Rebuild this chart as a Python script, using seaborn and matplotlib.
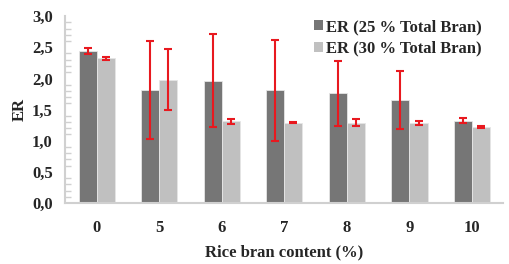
import seaborn as sns
import matplotlib.pyplot as plt
import matplotlib.ticker as mticker
import pandas as pd
import numpy as np

# Data
content = ["0", "5", "6", "7", "8", "9", "10"]
er_25 = [2.44, 1.81, 1.96, 1.81, 1.76, 1.66, 1.32]
er_30 = [2.32, 1.98, 1.31, 1.29, 1.29, 1.29, 1.22]
err_25 = [0.05, 0.79, 0.745, 0.81, 0.52, 0.465, 0.04]
err_30 = [0.025, 0.49, 0.045, 0.01, 0.055, 0.03, 0.015]
series = ["ER (25 % Total Bran)", "ER (30 % Total Bran)"]

df = pd.DataFrame({
    "content": content * 2,
    "ER": er_25 + er_30,
    "series": [series[0]] * len(content) + [series[1]] * len(content),
})

sns.set_style("white")
plt.rcParams["font.family"] = ["Liberation Serif", "DejaVu Serif"]
plt.rcParams["font.weight"] = "bold"

fig = plt.figure(figsize=(5.10, 2.64), dpi=100)
ax = fig.add_axes([0.128, 0.231, 0.859, 0.708])

sns.barplot(data=df, x="content", y="ER", hue="series", order=content,
            hue_order=series, palette=["#767676", "#c0c0c0"], width=0.576,
            gap=0, edgecolor="#e6e6e6", linewidth=0.6, ax=ax)

# Error bars placed on the bar centres
for cont, errs in zip(ax.containers, [err_25, err_30]):
    xs = [p.get_x() + p.get_width() / 2 for p in cont.patches]
    ys = [p.get_height() for p in cont.patches]
    ax.errorbar(xs, ys, yerr=errs, fmt="none", ecolor="#e8191f",
                elinewidth=1.5, capsize=3, capthick=1.5, zorder=5)

ax.set_ylim(0, 3.0)
ax.set_xlim(-0.5, len(content) - 0.5)
ax.yaxis.set_major_locator(mticker.MultipleLocator(0.5))
ax.yaxis.set_minor_locator(mticker.MultipleLocator(0.1))
ax.yaxis.set_major_formatter(mticker.FuncFormatter(lambda v, p: f"{v:.1f}".replace(".", ",")))

for s in ["top", "right"]:
    ax.spines[s].set_visible(False)
for s in ["left", "bottom"]:
    ax.spines[s].set_color("#d0d0d0")
    ax.spines[s].set_linewidth(1.5)

fs = 12
ax.tick_params(axis="y", which="major", direction="inout", length=8, width=1.2,
               color="#d0d0d0", labelsize=fs, pad=5)
ax.tick_params(axis="y", which="minor", direction="in", length=4, width=1,
               color="#d0d0d0", left=True)
ax.tick_params(axis="x", which="major", direction="out", length=4, width=1.2,
               color="#d0d0d0", labelsize=fs, pad=8)

ax.set_xlabel("Rice bran content (%)", fontsize=fs, fontweight="bold", labelpad=6)
ax.set_ylabel("ER", fontsize=fs, fontweight="bold", labelpad=3)

leg = ax.legend(loc="upper right", bbox_to_anchor=(0.985, 1.065), frameon=False,
                fontsize=fs, handlelength=0.5, handleheight=0.5,
                handletextpad=0.2, labelspacing=0.35)
for h in leg.legend_handles:
    h.set_edgecolor("none")

fig.savefig("out.png", dpi=100)
